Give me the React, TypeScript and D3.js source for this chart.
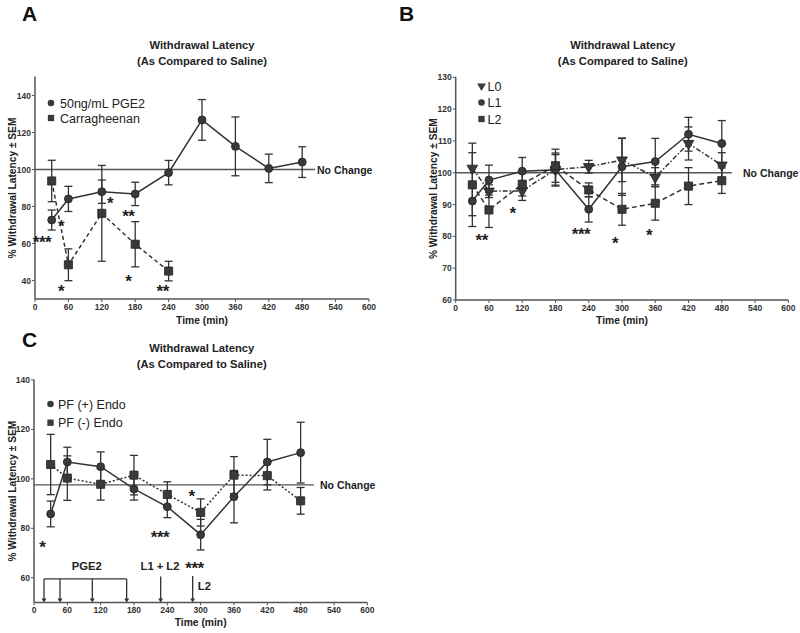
import React from 'react';
import * as d3 from 'd3';

const FONT = "'Liberation Sans', Arial, Helvetica, sans-serif";
const INK = '#333333';

// ---------- shared ----------
const timeTicks = [0, 60, 120, 180, 240, 300, 360, 420, 480, 540, 600];
const timePoints = [30, 60, 120, 180, 240, 300, 360, 420, 480];

// ---------- Panel A ----------
const aPge2Mean = [72.7, 84.1, 88.0, 86.8, 98.3, 126.8, 112.5, 100.6, 104.0];
const aPge2Sem = [5.4, 6.8, 6.3, 6.3, 6.6, 11.0, 15.9, 7.7, 8.3];
const aCarrTimes = [30, 60, 120, 180, 240];
const aCarrMean = [93.8, 48.5, 76.3, 59.6, 45.1];
const aCarrSem = [11.2, 8.6, 25.9, 12.2, 5.3];
const aYTicks = [40, 60, 80, 100, 120, 140];
const aStarT = [12.6, 46.7, 46.7, 134.7, 167.6, 167.6, 229.4];
const aStarV = [62.4, 70.9, 35.8, 83.5, 76.3, 41.2, 35.8];
const aStarS = ['***', '*', '*', '*', '**', '*', '**'];

// ---------- Panel B ----------
const bL0Mean = [101.4, 94.2, 94.3, 101.0, 101.9, 104.0, 98.6, 109.2, 102.4];
const bL0Sem = [4.9, 2.0, 3.0, 5.2, 2.0, 6.8, 3.0, 5.2, 3.9];
const bL1Mean = [91.1, 97.7, 100.5, 100.9, 88.5, 101.9, 103.5, 112.1, 109.2];
const bL1Sem = [4.6, 4.7, 4.3, 4.8, 4.0, 9.0, 7.3, 5.3, 7.2];
const bL2Mean = [96.2, 88.3, 96.4, 102.2, 94.6, 88.5, 90.4, 95.8, 97.5];
const bL2Sem = [13.1, 5.5, 3.7, 5.2, 2.2, 5.0, 5.3, 5.8, 4.0];
const bYTicks = [60, 70, 80, 90, 100, 110, 120, 130];
const bStarT = [46.9, 102.8, 226, 287.4, 348.7];
const bStarV = [79.9, 88.3, 81.8, 78.8, 81.3];
const bStarS = ['**', '*', '***', '*', '*'];

// ---------- Panel C ----------
const cPlusMean = [85.8, 106.8, 104.9, 95.9, 88.7, 77.4, 92.8, 106.8, 110.6];
const cPlusSem = [5.2, 6.0, 6.0, 4.5, 4.4, 6.2, 10.6, 9.2, 12.3];
const cMinusMean = [105.8, 100.3, 97.8, 101.5, 93.7, 86.4, 101.5, 101.3, 91.1];
const cMinusSem = [12.2, 9.0, 6.4, 8.0, 5.1, 5.5, 7.5, 5.8, 5.4];
const cYTicks = [60, 80, 100, 120, 140];
const cStarT = [15, 226.8, 283.8, 289];
const cStarV = [73.5, 77.6, 94.1, 65.1];
const cStarS = ['*', '***', '*', '***'];
const cPge2Times = [18, 46.8, 105, 166.8];
const cArrowTimes = [228, 285.6];
const cArrowTops = [60.5, 60.7];
const cBracketValue = 59.5;

type Series = {
  times: number[];
  mean: number[];
  sem: number[];
  symbol: 'circle' | 'square' | 'tri';
  dash: string;
  label: string;
};

function symbolPath(kind: string, big: boolean) {
  if (kind === 'circle') return d3.symbol().type(d3.symbolCircle).size(big ? 50 : 34)()!;
  if (kind === 'square') return d3.symbol().type(d3.symbolSquare).size(big ? 66 : 40)()!;
  return d3.symbol().type(d3.symbolTriangle).size(big ? 50 : 34)()!;
}

type PanelProps = {
  letter: string;
  letterX: number;
  letterY: number;
  xRange: [number, number];
  yDomain: [number, number];
  yRange: [number, number];
  yTicks: number[];
  series: Series[];
  starT: number[];
  starV: number[];
  starS: string[];
  noChange: number;
  noChangeEnd: number;
  noChangeTextX: number;
  titleX: number;
  titleY: number;
  yLabelX: number;
  xLabelY: number;
  legendX: number;
  legendY: number;
  legendDy: number;
  legendTextDx: number;
  children?: (x: d3.ScaleLinear<number, number>, y: d3.ScaleLinear<number, number>) => React.ReactNode;
};

function Panel(p: PanelProps) {
  const x = d3.scaleLinear().domain([0, 600]).range(p.xRange);
  const y = d3.scaleLinear().domain(p.yDomain).range(p.yRange);
  const x0 = x(0);
  const yb = y(p.yDomain[0]);
  const yt = y(p.yDomain[1]);
  const line = d3
    .line<[number, number]>()
    .x((d) => x(d[0]))
    .y((d) => y(d[1]));
  const tickFont = { fontFamily: FONT, fontSize: 8.5, fontWeight: 700, fill: INK } as const;
  return (
    <g>
      <text x={p.letterX} y={p.letterY} style={{ fontFamily: FONT, fontSize: 21, fontWeight: 700 }} fill="#111">
        {p.letter}
      </text>
      <text x={p.titleX} y={p.titleY} textAnchor="middle" style={{ fontFamily: FONT, fontSize: 11.2, fontWeight: 700 }} fill="#222">
        Withdrawal Latency
      </text>
      <text x={p.titleX} y={p.titleY + 16} textAnchor="middle" style={{ fontFamily: FONT, fontSize: 11.2, fontWeight: 700 }} fill="#222">
        (As Compared to Saline)
      </text>
      {/* axes */}
      <line x1={x0} x2={x0} y1={yb} y2={yt - 0.5} stroke="#555" strokeWidth={1.5} />
      <line x1={x0} x2={x(600)} y1={yb} y2={yb} stroke="#555" strokeWidth={1.5} />
      {p.yTicks.map((t) => (
        <g key={'yt' + t}>
          <line x1={x0 - 3} x2={x0} y1={y(t)} y2={y(t)} stroke="#555" strokeWidth={1} />
          <text x={x0 - 4} y={y(t) + 3} textAnchor="end" style={tickFont}>
            {t}
          </text>
        </g>
      ))}
      {timeTicks.map((t) => (
        <g key={'xt' + t}>
          <line x1={x(t)} x2={x(t)} y1={yb} y2={yb + 3} stroke="#555" strokeWidth={1} />
          <text x={x(t)} y={yb + 11} textAnchor="middle" style={tickFont}>
            {t}
          </text>
        </g>
      ))}
      <text x={(x(0) + x(600)) / 2} y={p.xLabelY} textAnchor="middle" style={{ fontFamily: FONT, fontSize: 10.3, fontWeight: 700 }} fill="#222">
        Time (min)
      </text>
      <text
        transform={`translate(${p.yLabelX},${(yb + yt) / 2}) rotate(-90)`}
        textAnchor="middle"
        dy="0.35em"
        style={{ fontFamily: FONT, fontSize: 10.2, fontWeight: 700 }}
        fill="#222"
      >
        % Withdrawal Latency ± SEM
      </text>
      {/* no change */}
      <line x1={x0} x2={x(p.noChangeEnd)} y1={y(p.noChange)} y2={y(p.noChange)} stroke="#555" strokeWidth={1.3} />
      <text x={p.noChangeTextX} y={y(p.noChange) + 4} style={{ fontFamily: FONT, fontSize: 10.5, fontWeight: 700 }} fill="#222">
        No Change
      </text>
      {p.children ? p.children(x, y) : null}
      {/* series */}
      {p.series.map((s, si) => {
        const pts = s.times.map((t, i) => [t, s.mean[i]] as [number, number]);
        return (
          <g key={'s' + si}>
            <path d={line(pts)!} fill="none" stroke={INK} strokeWidth={1.5} strokeDasharray={s.dash} />
          </g>
        );
      })}
      {p.series.map((s, si) => (
        <g key={'e' + si}>
          {s.times.map((t, i) => {
            const hi = y(s.mean[i] + s.sem[i]);
            const lo = y(s.mean[i] - s.sem[i]);
            const cx = x(t);
            return (
              <g key={i} stroke={INK} strokeWidth={1.3}>
                <line x1={cx} x2={cx} y1={hi} y2={lo} />
                <line x1={cx - 4} x2={cx + 4} y1={hi} y2={hi} />
                <line x1={cx - 4} x2={cx + 4} y1={lo} y2={lo} />
              </g>
            );
          })}
        </g>
      ))}
      {p.series.map((s, si) => (
        <g key={'m' + si}>
          {s.times.map((t, i) => (
            <path
              key={i}
              d={symbolPath(s.symbol, true)}
              transform={`translate(${x(t)},${y(s.mean[i])})${s.symbol === 'tri' ? ' rotate(180)' : ''}`}
              fill="#3a3a3a"
              stroke="#222"
              strokeWidth={0.8}
            />
          ))}
        </g>
      ))}
      {/* stars */}
      {p.starS.map((s, i) => (
        <text
          key={'st' + i}
          x={x(p.starT[i])}
          y={y(p.starV[i]) + 9}
          textAnchor="middle"
          style={{ fontFamily: FONT, fontSize: 17, fontWeight: 700, letterSpacing: -0.5 }}
          fill="#222"
        >
          {s}
        </text>
      ))}
      {/* legend */}
      {p.series.map((s, i) => {
        const ly = p.legendY + i * p.legendDy;
        return (
          <g key={'lg' + i}>
            <path
              d={symbolPath(s.symbol, false)}
              transform={`translate(${p.legendX},${ly})${s.symbol === 'tri' ? ' rotate(180)' : ''}`}
              fill="#3a3a3a"
            />
            <text x={p.legendX + p.legendTextDx} y={ly + 4.5} style={{ fontFamily: FONT, fontSize: 12.5 }} fill="#222">
              {s.label}
            </text>
          </g>
        );
      })}
    </g>
  );
}

export default function App() {
  const seriesA: Series[] = [
    { times: timePoints, mean: aPge2Mean, sem: aPge2Sem, symbol: 'circle', dash: '', label: '50ng/mL PGE2' },
    { times: aCarrTimes, mean: aCarrMean, sem: aCarrSem, symbol: 'square', dash: '4,3', label: 'Carragheenan' },
  ];
  const seriesB: Series[] = [
    { times: timePoints, mean: bL0Mean, sem: bL0Sem, symbol: 'tri', dash: '5,2,1.5,2', label: 'L0' },
    { times: timePoints, mean: bL1Mean, sem: bL1Sem, symbol: 'circle', dash: '', label: 'L1' },
    { times: timePoints, mean: bL2Mean, sem: bL2Sem, symbol: 'square', dash: '5,3', label: 'L2' },
  ];
  const seriesC: Series[] = [
    { times: timePoints, mean: cPlusMean, sem: cPlusSem, symbol: 'circle', dash: '', label: 'PF (+) Endo' },
    { times: timePoints, mean: cMinusMean, sem: cMinusSem, symbol: 'square', dash: '2,2', label: 'PF (-) Endo' },
  ];
  const boldLabel = { fontFamily: FONT, fontSize: 11.2, fontWeight: 700 } as const;
  return (
    <div style={{ position: 'fixed', left: 0, top: 0, width: 800, height: 633, background: '#fff' }}>
      <svg width={800} height={633} viewBox="0 0 800 633">
        <rect width={800} height={633} fill="#fff" />
        <Panel
          letter="A"
          letterX={22}
          letterY={21}
          xRange={[35, 369]}
          yDomain={[30, 150]}
          yRange={[299, 77]}
          yTicks={aYTicks}
          series={seriesA}
          starT={aStarT}
          starV={aStarV}
          starS={aStarS}
          noChange={100}
          noChangeEnd={503}
          noChangeTextX={317}
          titleX={202}
          titleY={49}
          yLabelX={12}
          xLabelY={324}
          legendX={51}
          legendY={103}
          legendDy={15}
          legendTextDx={9}
        />
        <Panel
          letter="B"
          letterX={399}
          letterY={21}
          xRange={[455.7, 788.3]}
          yDomain={[60, 130]}
          yRange={[300, 77.3]}
          yTicks={bYTicks}
          series={seriesB}
          starT={bStarT}
          starV={bStarV}
          starS={bStarS}
          noChange={100}
          noChangeEnd={498}
          noChangeTextX={743}
          titleX={622.7}
          titleY={49}
          yLabelX={433}
          xLabelY={324}
          legendX={481.5}
          legendY={86}
          legendDy={16.5}
          legendTextDx={6}
        />
        <Panel
          letter="C"
          letterX={22}
          letterY={347}
          xRange={[34, 367.3]}
          yDomain={[50, 140]}
          yRange={[602.4, 380]}
          yTicks={cYTicks}
          series={seriesC}
          starT={cStarT}
          starV={cStarV}
          starS={cStarS}
          noChange={97.6}
          noChangeEnd={504}
          noChangeTextX={320}
          titleX={201.7}
          titleY={352}
          yLabelX={12}
          xLabelY={626}
          legendX={50.5}
          legendY={404}
          legendDy={18.7}
          legendTextDx={7.5}
        >
          {(x, y) => (
            <g>
              <line
                x1={x(cPge2Times[0])}
                x2={x(cPge2Times[cPge2Times.length - 1])}
                y1={y(cBracketValue)}
                y2={y(cBracketValue)}
                stroke={INK}
                strokeWidth={1.3}
              />
              {cPge2Times.map((t, i) => (
                <g key={'pg' + i}>
                  <line x1={x(t)} x2={x(t)} y1={y(cBracketValue)} y2={y(50) - 3} stroke={INK} strokeWidth={1.3} />
                  <path d={`M${x(t) - 2.5},${y(50) - 4}L${x(t) + 2.5},${y(50) - 4}L${x(t)},${y(50)}Z`} fill={INK} />
                </g>
              ))}
              {cArrowTimes.map((t, i) => (
                <g key={'ar' + i}>
                  <line x1={x(t)} x2={x(t)} y1={y(cArrowTops[i])} y2={y(50) - 3} stroke={INK} strokeWidth={1.3} />
                  <path d={`M${x(t) - 2.5},${y(50) - 4}L${x(t) + 2.5},${y(50) - 4}L${x(t)},${y(50)}Z`} fill={INK} />
                </g>
              ))}
              <text x={x(94.9)} y={y(63.1)} textAnchor="middle" style={boldLabel} fill="#222">
                PGE2
              </text>
              <text x={x(226.8)} y={y(63.1)} textAnchor="middle" style={boldLabel} fill="#222">
                L1 + L2
              </text>
              <text x={x(295)} y={y(55.2)} style={boldLabel} fill="#222">
                L2
              </text>
            </g>
          )}
        </Panel>
      </svg>
    </div>
  );
}
